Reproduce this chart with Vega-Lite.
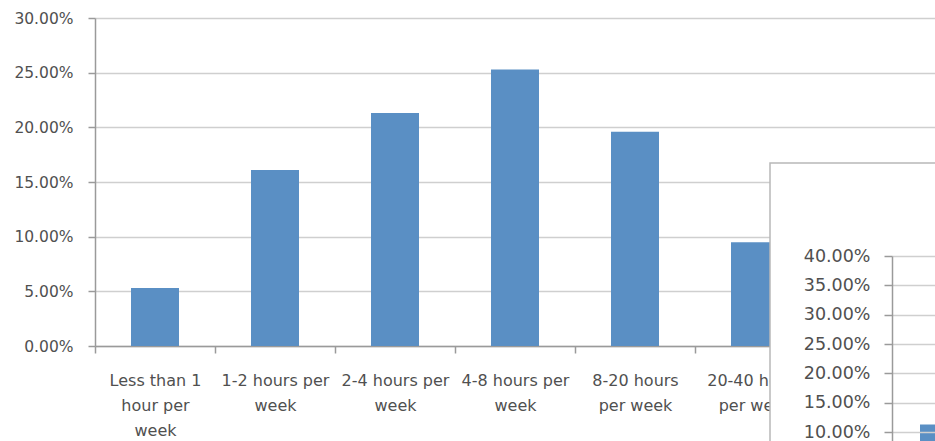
{
  "$schema": "https://vega.github.io/schema/vega-lite/v6.json",
  "width": 840,
  "height": 328,
  "autosize": {"type": "none"},
  "padding": {"left": 95, "top": 18, "right": 0, "bottom": 95},
  "background": "white",
  "config": {
    "view": {"stroke": null},
    "font": "DejaVu Sans",
    "axis": {"labelFont": "DejaVu Sans", "labelColor": "#505050"}
  },
  "datasets": {
    "hours": [
      {"usage": "Less than 1 hour per week", "share": 0.053},
      {"usage": "1-2 hours per week", "share": 0.161},
      {"usage": "2-4 hours per week", "share": 0.213},
      {"usage": "4-8 hours per week", "share": 0.253},
      {"usage": "8-20 hours per week", "share": 0.196},
      {"usage": "20-40 hours per week", "share": 0.095}
    ],
    "second": [
      {"usage": "Less than 1 hour per week", "share": 0.113}
    ]
  },
  "layer": [
    {
      "data": {"name": "hours"},
      "mark": {"type": "bar", "color": "#5A8FC4", "width": {"band": 0.4}},
      "encoding": {
        "x": {
          "field": "usage",
          "type": "nominal",
          "sort": null,
          "scale": {
            "domain": [
              "Less than 1 hour per week",
              "1-2 hours per week",
              "2-4 hours per week",
              "4-8 hours per week",
              "8-20 hours per week",
              "20-40 hours per week",
              "More than 40 hours per week"
            ],
            "paddingInner": 0,
            "paddingOuter": 0
          },
          "axis": {
            "title": null,
            "labelAngle": 0,
            "tickBand": "extent",
            "tickSize": 7,
            "tickColor": "#9a9a9a",
            "tickWidth": 1.5,
            "domainColor": "#9a9a9a",
            "domainWidth": 1.5,
            "labelFontSize": 16,
            "labelPadding": 19,
            "labelLineHeight": 25,
            "labelLimit": 0,
            "labelExpr": "{'Less than 1 hour per week': ['Less than 1', 'hour per', 'week'], '1-2 hours per week': ['1-2 hours per', 'week'], '2-4 hours per week': ['2-4 hours per', 'week'], '4-8 hours per week': ['4-8 hours per', 'week'], '8-20 hours per week': ['8-20 hours', 'per week'], '20-40 hours per week': ['20-40 hours', 'per week'], 'More than 40 hours per week': ''}[datum.value]",
            "zindex": 0
          }
        },
        "y": {
          "field": "share",
          "type": "quantitative",
          "scale": {"domain": [0, 0.3]},
          "axis": {
            "title": null,
            "format": ".2%",
            "values": [0, 0.05, 0.1, 0.15, 0.2, 0.25, 0.3],
            "grid": true,
            "gridColor": "#cfcfcf",
            "gridWidth": 1.5,
            "domainColor": "#9a9a9a",
            "domainWidth": 1.5,
            "tickColor": "#9a9a9a",
            "tickWidth": 1.5,
            "tickSize": 7,
            "labelPadding": 15,
            "labelFontSize": 15.5,
            "zindex": 0
          }
        }
      }
    },
    {
      "data": {"values": [{}]},
      "mark": {"type": "rect", "fill": "white", "stroke": "#b8b8b8", "strokeWidth": 1.5},
      "encoding": {
        "x": {"datum": 0, "type": "quantitative", "scale": {"domain": [0, 1], "range": [675, 1000]}, "axis": null},
        "x2": {"datum": 1},
        "y": {"datum": 0, "type": "quantitative", "scale": {"domain": [0, 1], "range": [440, 145]}, "axis": null},
        "y2": {"datum": 1}
      }
    },
    {
      "data": {"name": "second"},
      "mark": {"type": "bar", "color": "#5A8FC4"},
      "encoding": {
        "x": {
          "field": "usage",
          "type": "nominal",
          "scale": {"range": [797, 917], "paddingInner": 0, "paddingOuter": 0.4375},
          "axis": null
        },
        "y": {
          "field": "share",
          "type": "quantitative",
          "scale": {"domain": [0, 0.4], "range": [472.7, 238]},
          "axis": {
            "title": null,
            "orient": "left",
            "offset": -797,
            "format": ".2%",
            "values": [0, 0.05, 0.1, 0.15, 0.2, 0.25, 0.3, 0.35, 0.4],
            "grid": true,
            "gridColor": "#cfcfcf",
            "gridWidth": 1.5,
            "domainColor": "#9a9a9a",
            "domainWidth": 1.5,
            "tickColor": "#9a9a9a",
            "tickWidth": 1.5,
            "tickSize": 8,
            "labelPadding": 14,
            "labelFontSize": 17.5,
            "zindex": 1
          }
        }
      }
    }
  ],
  "resolve": {
    "scale": {"x": "independent", "y": "independent"},
    "axis": {"x": "independent", "y": "independent"}
  }
}
